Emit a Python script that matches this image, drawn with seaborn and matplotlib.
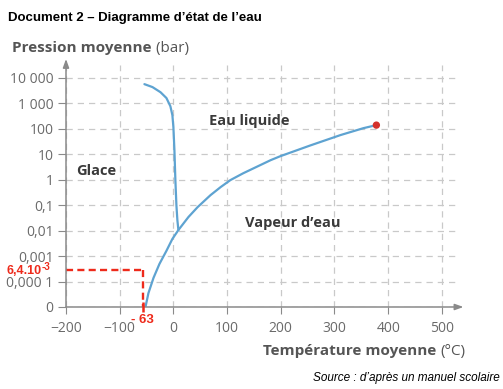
import matplotlib
matplotlib.use('Agg')
import matplotlib.pyplot as plt
import seaborn as sns
import pandas as pd

# Fusion curve (solid / liquid)
fusion_T = [-54, -39, -24, -13, -5.6, -1.9, 0, 1.9, 3.7, 5.6, 7.4, 9.3]
fusion_p = [5600, 4300, 2700, 1600, 760, 340, 115, 14.5, 0.95, 0.1, 0.026, 0.0105]

# Sublimation + vaporisation curve, up to the critical point
vap_T = [-52, -46.5, -37, -26, -13, -1.9, 9.3, 28, 45, 69, 88, 106, 130, 181, 199,
         255, 311, 354, 378]
vap_p = [1e-5, 3.5e-5, 1.4e-4, 4.9e-4, 1.6e-3, 4.7e-3, 0.0105, 0.034, 0.083, 0.245,
         0.51, 0.955, 1.78, 5.8, 8.3, 22, 56, 105, 138]

# Critical point
crit_T = [378]
crit_p = [138]

# Axis ticks
x_ticks = [-200, -100, 0, 100, 200, 300, 400, 500]
x_labels = ['\u2212200', '\u2212100', '0', '100', '200', '300', '400', '500']
y_ticks = [1e-5, 1e-4, 1e-3, 1e-2, 1e-1, 1, 10, 100, 1000, 10000]
y_labels = ['0', '0,000 1', '0,001', '0,01', '0,1', '1', '10', '100', '1 000', '10 000']

# Red reading annotation
annot_T = -57
annot_p = 2.8e-4

sns.set_style('white')
plt.rcParams['font.family'] = ['Open Sans', 'DejaVu Sans']

fig = plt.figure(figsize=(5.03, 3.89), dpi=100)
ax = fig.add_axes([66 / 503, 82 / 389, (458 - 66) / 503, (307 - 65) / 389])

blue = '#5ea3d1'
grid_c = '#c9c9c9'
axis_c = '#8a8a8a'

fus = pd.DataFrame({'T': fusion_T, 'p': fusion_p})
vap = pd.DataFrame({'T': vap_T, 'p': vap_p})
sns.lineplot(data=fus, x='T', y='p', sort=False, color=blue, lw=1.6, ax=ax, zorder=3)
sns.lineplot(data=vap, x='T', y='p', sort=False, color=blue, lw=1.6, ax=ax, zorder=3)
sns.scatterplot(x=crit_T, y=crit_p, color='#d3302b', s=28, edgecolor='none', ax=ax, zorder=4)

ax.set_yscale('log')
ax.set_xlim(-200, 530)
ax.set_ylim(1e-5, 10 ** 4.5)
ax.set_xticks(x_ticks)
ax.set_xticklabels(x_labels)
ax.set_yticks(y_ticks)
ax.set_yticklabels(y_labels)
ax.minorticks_off()
ax.set_xlabel('')
ax.set_ylabel('')
ax.tick_params(axis='x', direction='out', length=5, width=0.8, color=axis_c,
               labelsize=10, labelcolor='#6a6a6a', pad=5, bottom=True)
ax.tick_params(axis='y', direction='out', length=6, width=0.8, color=axis_c,
               labelsize=10, labelcolor='#6a6a6a', pad=3, left=True)

# dashed grid
ax.grid(True, which='major', color=grid_c, lw=0.9, linestyle=(0, (5, 4)))
ax.set_axisbelow(True)

# axes drawn as arrows
for s in ax.spines.values():
    s.set_visible(False)
ax.annotate('', xy=(0, 1.025), xytext=(0, 0), xycoords='axes fraction',
            arrowprops=dict(arrowstyle='-|>,head_length=0.5,head_width=0.18',
                            color=axis_c, lw=1.1, shrinkA=0, shrinkB=0), zorder=5)
ax.annotate('', xy=(1.014, 0), xytext=(0, 0), xycoords='axes fraction',
            arrowprops=dict(arrowstyle='-|>,head_length=0.5,head_width=0.18',
                            color=axis_c, lw=1.1, shrinkA=0, shrinkB=0), zorder=5)

# region labels
lab_kw = dict(fontsize=10.5, fontweight='bold', color='#3a3a3a', ha='center', va='center')
ax.text(-143, 10 ** 0.33, 'Glace', **lab_kw)
ax.text(141, 10 ** 2.29, 'Eau liquide', **lab_kw)
ax.text(223, 10 ** -1.71, 'Vapeur d\u2019eau', **lab_kw)

# red reading lines
red = '#ee2a1b'
ax.plot([-200, annot_T], [annot_p, annot_p], color=red, lw=1.7, dashes=(3, 1.8),
        clip_on=False, zorder=4)
ax.plot([annot_T, annot_T], [annot_p, 1e-5], color=red, lw=1.7, dashes=(3, 1.8),
        clip_on=False, zorder=4)
ax.plot([annot_T], [1e-5], marker='|', ms=7, mew=1.8, color=red, clip_on=False, zorder=6)
ax.text(annot_T, 10 ** -5.5, '- 63', color=red, fontsize=9.5, fontweight='bold',
        family='Liberation Sans', ha='center', va='center')
t1 = ax.text(-245, 10 ** -3.6, '6,4.10', color=red, fontsize=9, fontweight='bold',
             family='Liberation Sans', ha='right', va='center')
ax.annotate('-3', xy=(1, 0.45), xycoords=t1, color=red, fontsize=7, fontweight='bold',
            family='Liberation Sans', ha='left', va='bottom')

# titles
fig.text(8 / 503, 1 - 18 / 389, 'Document 2 \u2013 Diagramme d\u2019\u00e9tat de l\u2019eau',
         family='Liberation Sans', fontweight='bold', fontsize=9.5, color='black',
         ha='left', va='center')
yl = fig.text(12 / 503, 1 - 52 / 389, 'Pression moyenne', fontweight='bold', fontsize=11,
              color='#555555', ha='left', va='baseline')
ax.annotate(' (bar)', xy=(1, 1 - 52 / 389), xycoords=(yl, 'figure fraction'),
            fontsize=11, color='#555555', ha='left', va='baseline')
xl_y = 1 - 355 / 389
xl2 = fig.text(465 / 503, xl_y, '(\u00b0C)', fontsize=11, color='#555555',
               ha='right', va='baseline')
ax.annotate('Temp\u00e9rature moyenne ', xy=(0, xl_y), xycoords=(xl2, 'figure fraction'),
            fontsize=11, fontweight='bold', color='#555555', ha='right', va='baseline')
fig.text(500 / 503, 1 - 378 / 389, 'Source : d\u2019apr\u00e8s un manuel scolaire',
         family='Liberation Sans', style='italic', fontsize=8.5, color='black',
         ha='right', va='center')

fig.savefig('out.png', dpi=100)
plt.close(fig)
